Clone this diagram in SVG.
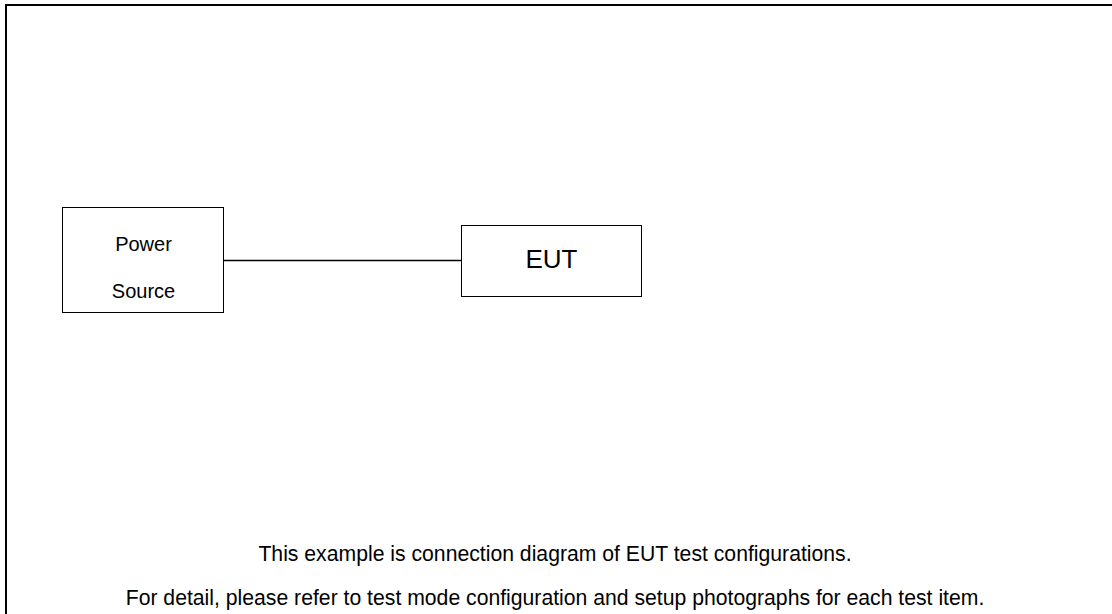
<svg xmlns="http://www.w3.org/2000/svg" width="1112" height="614" viewBox="0 0 1112 614">
<style>
.box{fill:#fff;stroke:#000;stroke-width:1}
.t{font-family:"Liberation Sans",Arial,sans-serif;fill:#000;text-anchor:middle}
</style>
<rect x="0" y="0" width="1112" height="614" fill="#fff"/>
<path d="M6,620 V5 H1120" fill="none" stroke="#000" stroke-width="2"/>
<g id="connectors">
<line x1="224" y1="260.5" x2="461" y2="260.5" stroke="#000" stroke-width="1.3"/>
</g>
<g id="power-source">
<rect class="box" x="62.5" y="207.5" width="161" height="105"/>
<text class="t" x="143.5" y="251" font-size="20">Power</text>
<text class="t" x="143.5" y="298" font-size="20">Source</text>
</g>
<g id="eut">
<rect class="box" x="461.5" y="225.5" width="180" height="71"/>
<text class="t" x="551.5" y="267.5" font-size="26">EUT</text>
</g>
<g id="notes">
<text class="t" x="555" y="561" font-size="21.2">This example is connection diagram of EUT test configurations.</text>
<text class="t" x="555" y="605" font-size="21.2">For detail, please refer to test mode configuration and setup photographs for each test item.</text>
</g>
</svg>
